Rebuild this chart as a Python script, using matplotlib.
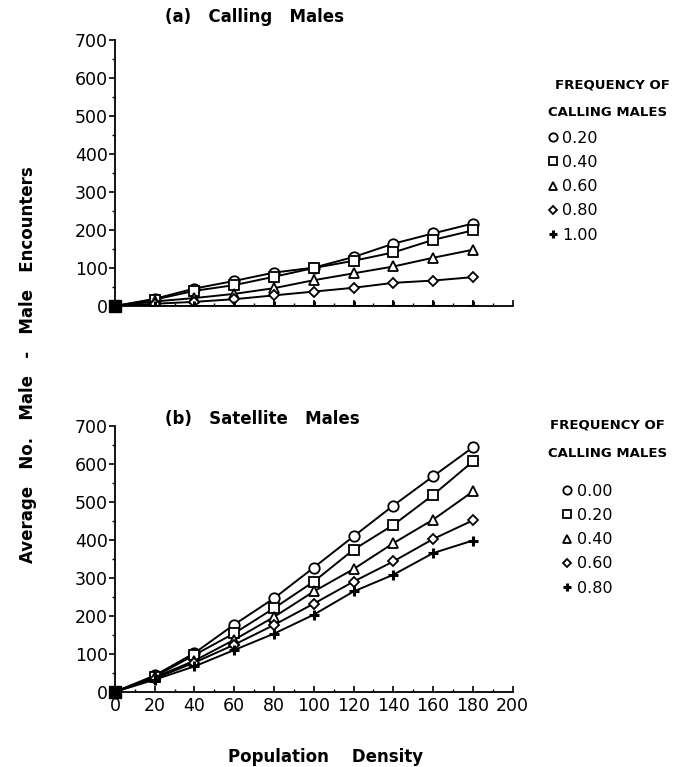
import matplotlib.pyplot as plt
from matplotlib.lines import Line2D
from matplotlib.ticker import MultipleLocator

plt.rcParams['font.family'] = ['DejaVu Sans']

density = [0, 20, 40, 60, 80, 100, 120, 140, 160, 180]

# (a) calling males, by frequency of calling males
calling_labels = ['0.20', '0.40', '0.60', '0.80', '1.00']
calling_020 = [0, 19, 46, 66, 88, 101, 129, 164, 191, 217]
calling_040 = [0, 17, 40, 55, 77, 100, 119, 141, 174, 199]
calling_060 = [0, 12, 21, 32, 47, 68, 86, 104, 127, 148]
calling_080 = [0, 6, 11, 18, 28, 38, 48, 61, 67, 76]
calling_100 = [0, 0, 0, 0, 0, 0, 0, 0, 0, 0]

# (b) satellite males
satellite_labels = ['0.00', '0.20', '0.40', '0.60', '0.80']
satellite_000 = [0, 43, 102, 177, 246, 327, 409, 490, 567, 643]
satellite_020 = [0, 40, 97, 154, 220, 290, 374, 439, 518, 606]
satellite_040 = [0, 38, 82, 137, 197, 264, 323, 391, 453, 527]
satellite_060 = [0, 35, 77, 124, 176, 232, 290, 343, 402, 451]
satellite_080 = [0, 32, 67, 110, 153, 203, 264, 308, 365, 398]

# marker, size, edge width
MARKERS = [('o', 7.5, 1.3), ('s', 7.5, 1.3), ('^', 7.5, 1.3),
           ('D', 5.5, 1.3), ('+', 7, 2.2)]


def draw_panel(ax, series, labels, legend_x, legend_y):
    for ys, (m, ms, mw) in zip(series, MARKERS):
        ax.plot(density, ys, color='black', lw=1.4, marker=m, ms=ms,
                mfc='white', mec='black', mew=mw, markevery=list(range(1, len(density))),
                zorder=3)
    # all series meet at the origin, drawn as one solid block
    ax.plot(density[0], series[0][0], marker='s', ms=8, color='black', zorder=4, clip_on=False)

    ax.set_xlim(0, 200)
    ax.set_ylim(0, 700)
    ax.xaxis.set_major_locator(MultipleLocator(20))
    ax.xaxis.set_minor_locator(MultipleLocator(10))
    ax.yaxis.set_major_locator(MultipleLocator(100))
    ax.yaxis.set_minor_locator(MultipleLocator(50))
    ax.spines['top'].set_visible(False)
    ax.spines['right'].set_visible(False)
    ax.spines['left'].set_linewidth(1.3)
    ax.spines['bottom'].set_linewidth(1.3)
    ax.tick_params(axis='y', which='major', direction='out', length=4, width=1.2, labelsize=12.5, pad=1)
    ax.tick_params(axis='y', which='minor', direction='out', length=2, width=1.0)
    ax.tick_params(axis='x', which='major', direction='in', length=4, width=1.2, labelsize=12.5, pad=4)
    ax.tick_params(axis='x', which='minor', direction='in', length=2, width=1.0)

    handles = [Line2D([], [], ls='none', marker=m, ms=ms - 1.5, mfc='white', mec='black', mew=mw,
                      color='black') for m, ms, mw in MARKERS]
    ax.legend(handles, labels, loc='upper left', bbox_to_anchor=(legend_x, legend_y),
              frameon=False, fontsize=11.5, handlelength=0.6, handletextpad=0.3,
              labelspacing=0.58, borderpad=0, borderaxespad=0)


fig = plt.figure(figsize=(6.8, 7.67), dpi=100)
ax_a = fig.add_axes([0.169, 0.601, 0.585, 0.347])
ax_b = fig.add_axes([0.169, 0.098, 0.585, 0.347])

draw_panel(ax_a, [calling_020, calling_040, calling_060, calling_080, calling_100],
           calling_labels, 1.088, 0.659)
draw_panel(ax_b, [satellite_000, satellite_020, satellite_040, satellite_060, satellite_080],
           satellite_labels, 1.125, 0.782)
ax_a.tick_params(axis='x', labelbottom=False)

fig.text(0.243, 0.978, '(a)   Calling   Males', fontsize=12, fontweight='bold', ha='left', va='center')
fig.text(0.243, 0.454, '(b)   Satellite   Males', fontsize=12, fontweight='bold', ha='left', va='center')

fig.text(0.9, 0.889, 'FREQUENCY OF', fontsize=9.5, fontweight='bold', ha='center', va='center')
fig.text(0.893, 0.853, 'CALLING MALES', fontsize=9.5, fontweight='bold', ha='center', va='center')
fig.text(0.893, 0.446, 'FREQUENCY OF', fontsize=9.5, fontweight='bold', ha='center', va='center')
fig.text(0.894, 0.409, 'CALLING MALES', fontsize=9.5, fontweight='bold', ha='center', va='center')

fig.text(0.041, 0.525, 'Average   No.   Male   -   Male   Encounters', fontsize=12, fontweight='bold',
         rotation=90, ha='center', va='center')
fig.text(0.479, 0.013, 'Population    Density', fontsize=12, fontweight='bold', ha='center', va='center')

fig.savefig('out.png', dpi=100)
